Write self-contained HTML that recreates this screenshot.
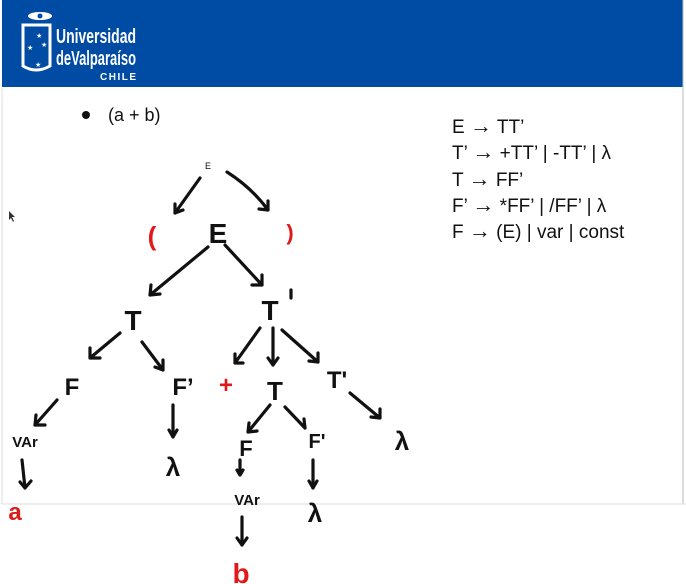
<!DOCTYPE html>
<html><head><meta charset="utf-8"><style>
body{margin:0;width:686px;height:584px;overflow:hidden;background:#fff;font-family:"Liberation Sans",sans-serif}
#hdr{position:absolute;left:2px;top:0;width:681px;height:87px;background:#004ba3}
</style></head><body>
<div id="hdr"></div>
<svg width="686" height="584" style="position:absolute;left:0;top:0">
 <g>
  <ellipse cx="40" cy="16" rx="12" ry="4" fill="#fff"/>
  <circle cx="40" cy="16" r="2.5" fill="#004ba3"/>
  <path d="M23 25 H50 V66 Q36 74 23 66 Z" fill="none" stroke="#fff" stroke-width="3"/>
  <text x="36" y="38" fill="#fff" font-size="7">★</text>
  <text x="27" y="50" fill="#fff" font-size="7">★</text>
  <text x="41" y="47" fill="#fff" font-size="7">★</text>
  <text x="35" y="67" fill="#fff" font-size="7">★</text>
  <text x="56" y="43" fill="#fff" font-size="20" font-weight="bold" textLength="80" lengthAdjust="spacingAndGlyphs">Universidad</text>
  <text x="56" y="65" fill="#fff" font-size="20" font-weight="bold" textLength="80" lengthAdjust="spacingAndGlyphs">deValparaíso</text>
  <text x="100" y="80" fill="#fff" font-size="10" font-weight="bold" textLength="36" lengthAdjust="spacing">CHILE</text>
 </g>
 <line x1="683" y1="0" x2="683" y2="504" stroke="#bbb" stroke-width="1"/>
 <line x1="2" y1="88" x2="2" y2="504" stroke="#ddd" stroke-width="1"/>
 <line x1="2" y1="504" x2="686" y2="504" stroke="#ddd" stroke-width="1"/>
 <circle cx="86" cy="115" r="4" fill="#111"/>
 <text x="108" y="121" font-size="18" fill="#111">(a + b)</text>
 <g font-size="19" fill="#111">
  <text x="452" y="133">E <tspan font-size="22">→</tspan> TT’</text>
  <text x="452" y="159">T’ <tspan font-size="22">→</tspan> +TT’ | -TT’ | λ</text>
  <text x="452" y="186">T <tspan font-size="22">→</tspan> FF’</text>
  <text x="452" y="212">F’ <tspan font-size="22">→</tspan> *FF’ | /FF’ | λ</text>
  <text x="452" y="238">F <tspan font-size="22">→</tspan> (E) | var | const</text>
 </g>
 <g stroke="#111" stroke-width="3.2" fill="none" stroke-linecap="round">
  <path d="M200 178 L175 213 M175 213 l0-9 M175 213 l8-3"/>
  <path d="M227 172 Q252 188 268 210 M268 210 l-9-1 M268 210 l0-9"/>
  <path d="M208 247 L150 295 M150 295 l1-10 M150 295 l10-1"/>
  <path d="M225 245 L262 285 M262 285 l-10 0 M262 285 l0-10"/>
  <path d="M291 290 L291 298"/>
  <path d="M120 333 L90 358 M90 358 l0-10 M90 358 l10 0"/>
  <path d="M142 342 L163 370 M163 370 l-8-3 M163 370 l0-10"/>
  <path d="M260 328 L235 363 M235 363 l0-9 M235 363 l8 0"/>
  <path d="M273 328 L273 365 M273 365 l-5-7 M273 365 l5-7"/>
  <path d="M282 330 L318 362 M318 362 l-9-1 M318 362 l0-9"/>
  <path d="M57 400 L35 425 M35 425 l1-10 M35 425 l10 0"/>
  <path d="M22 460 L25 488 M25 488 l-5-6 M25 488 l6-7"/>
  <path d="M173 405 L173 437 M173 437 l-4-7 M173 437 l4-7"/>
  <path d="M270 405 L248 432 M248 432 l1-9 M248 432 l9-1"/>
  <path d="M285 407 L305 428 M305 428 l-1-9"/>
  <path d="M240 460 L240 475 M240 475 l-3-5 M240 475 l3-5"/>
  <path d="M242 517 L242 545 M242 545 l-5-7 M242 545 l5-7"/>
  <path d="M313 460 L313 488 M313 488 l-4-7 M313 488 l4-7"/>
  <path d="M350 393 L380 418 M380 418 l-9-1 M380 418 l0-9"/>
 </g>
 <g font-weight="bold" fill="#111" text-anchor="middle">
  <text x="208" y="169" font-size="9" font-weight="normal">E</text>
  <text x="152" y="245" font-size="26" fill="#e0191a">(</text>
  <text x="218" y="243" font-size="28">E</text>
  <text x="290" y="240" font-size="22" fill="#e0191a">)</text>
  <text x="133" y="330" font-size="28">T</text>
  <text x="270" y="320" font-size="28">T</text>
  <text x="72" y="395" font-size="24">F</text>
  <text x="183" y="395" font-size="24">F’</text>
  <text x="226" y="393" font-size="24" fill="#e0191a">+</text>
  <text x="275" y="400" font-size="26">T</text>
  <text x="337" y="388" font-size="24">T'</text>
  <text x="25" y="447" font-size="15">VAr</text>
  <text x="15" y="520" font-size="24" fill="#e0191a">a</text>
  <text x="173" y="476" font-size="26">λ</text>
  <text x="246" y="456" font-size="22">F</text>
  <text x="317" y="448" font-size="20">F'</text>
  <text x="247" y="505" font-size="15">VAr</text>
  <text x="241" y="583" font-size="28" fill="#e0191a">b</text>
  <text x="315" y="522" font-size="26">λ</text>
  <text x="402" y="450" font-size="26">λ</text>
 </g>
 <path d="M9 211 l0 9 l2-2 l2 4 l1-1 l-2-4 l3 0 Z" fill="#333"/>
</svg>
</body></html>
